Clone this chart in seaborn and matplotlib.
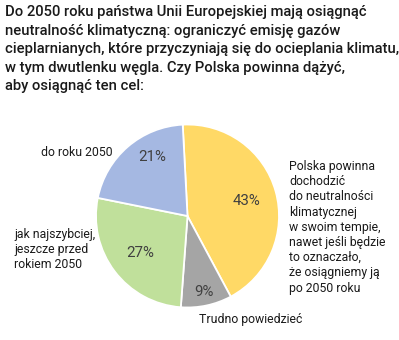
import matplotlib
matplotlib.use("Agg")
import matplotlib.pyplot as plt
import seaborn as sns
import numpy as np

sns.set_theme(style="white")
plt.rcParams['font.family'] = ['Roboto', 'DejaVu Sans']

title = ("Do 2050 roku państwa Unii Europejskiej mają osiągnąć\n"
         "neutralność klimatyczną: ograniczyć emisję gazów\n"
         "cieplarnianych, które przyczyniają się do ocieplania klimatu,\n"
         "w tym dwutlenku węgla. Czy Polska powinna dążyć,\n"
         "aby osiągnąć ten cel:")
categories = ["Polska powinna\ndochodzić\ndo neutralności\nklimatycznej\nw swoim tempie,\nnawet jeśli będzie\nto oznaczało,\nże osiągniemy ją\npo 2050 roku",
              "Trudno powiedzieć",
              "jak najszybciej,\njeszcze przed\nrokiem 2050",
              "do roku 2050"]
values = [43, 9, 27, 21]
colors = ["#FFD966", "#A5A5A5", "#C0E09B", "#A5B8E2"]

W, H = 399, 340
fig = plt.figure(figsize=(W / 100, H / 100), dpi=100)
cx, cy, r = 187.5, 216, 91.5
ax = fig.add_axes([(cx - r) / W, (H - cy - r) / H, 2 * r / W, 2 * r / H])

wedges, _ = ax.pie(values, colors=colors, startangle=93, counterclock=False,
                   wedgeprops=dict(edgecolor="white", linewidth=1.3))
ax.set_xlim(-1, 1)
ax.set_ylim(-1, 1)
ax.set_aspect("equal")
ax.axis("off")

# percent labels: radial fraction and angular offset per wedge
pct_r = [0.67, 0.85, 0.66, 0.75]
pct_da = [-1.5, 0, 0.5, -10]
for w, v, rr, da in zip(wedges, values, pct_r, pct_da):
    ang = np.deg2rad((w.theta1 + w.theta2) / 2 + da)
    ax.text(rr * np.cos(ang), rr * np.sin(ang), f"{v}%", ha="center", va="center",
            fontsize=10.8, color="#404040")

fig.text(5 / W, 1 - 5 / H, title, ha="left", va="top", fontsize=10.65,
         fontweight="medium", color="#1a1a1a", linespacing=1.42)

lab_pos = [(289, 160, "left", "top"), (199, 319, "left", "center"),
           (14, 228, "left", "top"), (41, 152, "left", "center")]
for lab, (x, y, ha, va) in zip(categories, lab_pos):
    fig.text(x / W, 1 - y / H, lab, ha=ha, va=va, fontsize=8.8,
             color="#1a1a1a", linespacing=1.22)

fig.savefig("out.png", dpi=100, facecolor="white")
